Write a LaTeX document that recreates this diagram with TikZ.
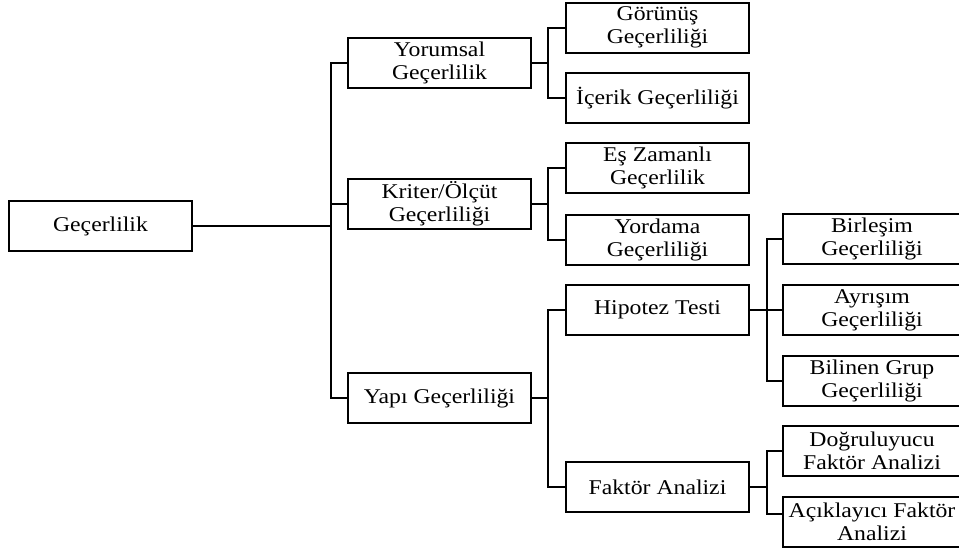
\documentclass[tikz,border=0pt]{standalone}
\usepackage{fontspec}
\setmainfont{Liberation Serif}[FakeStretch=1.13]
\tikzset{
  kutu/.style={draw, line width=2pt, minimum width=183pt, minimum height=50pt,
    inner sep=0pt, align=center, font=\fontsize{21}{23}\selectfont},
  uckutu/.style={kutu, minimum width=178pt},
  bag/.style={line width=2pt}
}

\begin{document}
\begin{tikzpicture}[x=1pt, y=-1pt]
\useasboundingbox (0,0) rectangle (959,549);
% kutular
\node[kutu] (gec) at (100.5,226) {Geçerlilik};
\node[kutu] (yor) at (439.5,63) {Yorumsal\\Geçerlilik};
\node[kutu] (kri) at (439.5,204) {Kriter/Ölçüt\\Geçerliliği};
\node[kutu] (yapi) at (439.5,398) {Yapı Geçerliliği};
\node[kutu] (gor) at (657.5,27.5) {Görünüş\\Geçerliliği};
\node[kutu] (ice) at (657.5,98) {İçerik Geçerliliği};
\node[kutu] (es) at (657.5,168) {Eş Zamanlı\\Geçerlilik};
\node[kutu] (yord) at (657.5,240) {Yordama\\Geçerliliği};
\node[kutu] (hip) at (657.5,310) {Hipotez Testi};
\node[kutu] (fak) at (657.5,487) {Faktör Analizi};
\node[uckutu] (bir) at (872,239) {Birleşim\\Geçerliliği};
\node[uckutu] (ayr) at (872,310) {Ayrışım\\Geçerliliği};
\node[uckutu] (bil) at (872,381) {Bilinen Grup\\Geçerliliği};
\node[uckutu] (dog) at (872,451) {Doğruluyucu\\Faktör Analizi};
\node[uckutu] (acik) at (872,522) {Açıklayıcı Faktör\\Analizi};
% kollar
\coordinate (k0) at (331,226);
\coordinate (k1) at (548,63);
\coordinate (k2) at (548,204);
\coordinate (k3) at (548,398);
\coordinate (k4) at (767,310);
\coordinate (k5) at (767,487);
\draw[bag] (gec.east) -- (k0);
\draw[bag] (k0) |- (yor.west);
\draw[bag] (k0) |- (kri.west);
\draw[bag] (k0) |- (yapi.west);
\draw[bag] (yor.east) -- (k1);
\draw[bag] (k1) |- (gor.west);
\draw[bag] (k1) |- (ice.west);
\draw[bag] (kri.east) -- (k2);
\draw[bag] (k2) |- (es.west);
\draw[bag] (k2) |- (yord.west);
\draw[bag] (yapi.east) -- (k3);
\draw[bag] (k3) |- (hip.west);
\draw[bag] (k3) |- (fak.west);
\draw[bag] (hip.east) -- (k4);
\draw[bag] (k4) |- (bir.west);
\draw[bag] (k4) |- (ayr.west);
\draw[bag] (k4) |- (bil.west);
\draw[bag] (fak.east) -- (k5);
\draw[bag] (k5) |- (dog.west);
\draw[bag] (k5) |- ([yshift=8pt]acik.west);
\end{tikzpicture}
\end{document}
